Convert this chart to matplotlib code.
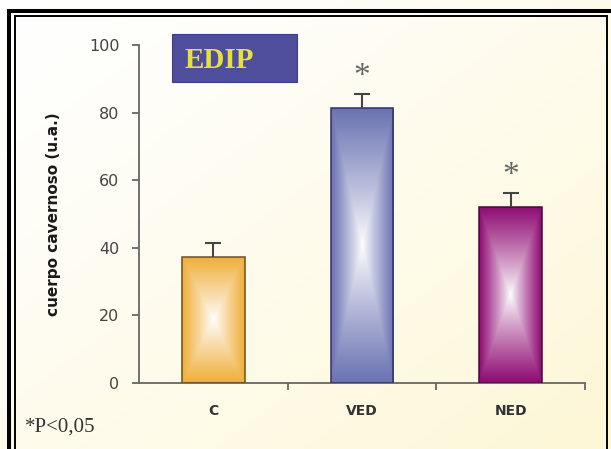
import numpy as np
import matplotlib
matplotlib.use("Agg")
import matplotlib.pyplot as plt
from matplotlib.patches import Rectangle
from matplotlib.colors import to_rgb

categories = ["C", "VED", "NED"]
values = [37.3, 81.4, 52.1]
errors = [4.1, 4.1, 4.1]
significant = [False, True, True]
bar_colors = ["#F0AE3A", "#6A72B2", "#8E0A72"]
edge_colors = ["#6b5020", "#2e3366", "#4a0840"]
yticks = [0, 20, 40, 60, 80, 100]

W, H = 611, 449
fig = plt.figure(figsize=(W / 100, H / 100), dpi=100)

# background gradient
bg = fig.add_axes([0, 0, 1, 1])
bg.set_axis_off()
yy, xx = np.mgrid[0:1:200j, 0:1:200j]
t = np.clip((xx + yy) / 2.0, 0, 1) ** 1.2
c0 = np.array(to_rgb("#FFFFFF"))
c1 = np.array(to_rgb("#FDF7D6"))
img = c0[None, None, :] * (1 - t[..., None]) + c1[None, None, :] * t[..., None]
bg.imshow(img, extent=[0, 1, 0, 1], origin="upper", aspect="auto")
bg.set_xlim(0, 1)
bg.set_ylim(0, 1)

def px(x, y):
    return x / W, 1 - y / H

# double border
bg.add_patch(Rectangle((9.0 / W, -0.1), (W + 20) / W, 1 - 11.5 / H + 0.1,
                       fill=False, lw=2.9, ec="black", transform=bg.transAxes))
bg.add_patch(Rectangle((14.5 / W, -0.1), (606.5 - 14.5) / W, 1 - 16.5 / H + 0.1,
                       fill=False, lw=1.4, ec="black", transform=bg.transAxes))

ax = fig.add_axes([139 / W, (H - 383) / H, 446 / W, 338 / H])
ax.patch.set_alpha(0)
x = np.arange(len(categories))
bw = 0.42
bars = ax.bar(x, values, width=bw, color="none", edgecolor=edge_colors, lw=1.1, zorder=3)

yy, xx = np.mgrid[-1:1:300j, -1:1:120j]
tt = np.maximum(np.abs(xx), np.abs(yy))
f = np.clip(tt, 0, 1) ** 0.9
for b, col in zip(bars, bar_colors):
    c = np.array(to_rgb(col))
    im = np.ones((300, 120, 3)) * (1 - f[..., None]) + c[None, None, :] * f[..., None]
    x0, y0 = b.get_x(), b.get_y()
    w, h = b.get_width(), b.get_height()
    imh = ax.imshow(im, extent=[x0, x0 + w, y0, y0 + h], origin="lower",
                    aspect="auto", zorder=2, interpolation="bilinear")
    imh.set_clip_path(b)

tops = np.array(values) + np.array(errors)
ax.vlines(x, values, tops, color="#444444", lw=1.5, zorder=4)
ax.plot(x, tops, ls="none", marker="_", ms=11.5, mew=1.5, color="#444444", zorder=4)

for xi, tp, s in zip(x, tops, significant):
    if s:
        ax.text(xi, tp + 5.0, "*", ha="center", va="center", fontsize=24,
                family="Liberation Serif", color="#666666")

ax.set_xlim(-0.5, 2.5)
ax.set_ylim(0, 100)
ax.set_yticks(yticks)
ax.set_yticklabels([str(v) for v in yticks])
ax.set_xticks(x)
ax.set_xticklabels(categories)
ax.set_xticks([0.5, 1.5, 2.5], minor=True)
ax.tick_params(axis="x", which="major", length=0, pad=15, labelsize=10,
               labelcolor="#333333")
ax.tick_params(axis="x", which="minor", length=5, width=1.3, color="#666666", direction="out")
ax.tick_params(axis="y", length=5, width=1.3, color="#666666", labelsize=11.5,
               labelcolor="#444444", pad=9)
for lab in ax.get_xticklabels():
    lab.set_fontweight("bold")
for sp in ["top", "right"]:
    ax.spines[sp].set_visible(False)
for sp in ["left", "bottom"]:
    ax.spines[sp].set_color("#666666")
    ax.spines[sp].set_linewidth(1.3)

ax.set_ylabel("cuerpo cavernoso (u.a.)", fontsize=11, fontweight="bold",
              color="#1a1a1a")
ax.yaxis.set_label_coords(-0.175, 0.5)

# EDIP box
fig.patches.append(Rectangle(px(172, 82), (297 - 172) / W, (82 - 34) / H,
                             transform=fig.transFigure, fc="#4E4E9C", ec="#3E3E88",
                             lw=0.8, zorder=5))
fig.text(px(185, 60)[0], px(185, 60)[1], "EDIP", ha="left", va="center",
         fontsize=21, fontweight="bold", family="Liberation Serif", color="#E6E23A", zorder=6)

fig.text(px(25, 427)[0], px(25, 427)[1], "*P<0,05", ha="left", va="center",
         fontsize=15, family="Liberation Serif", color="#333333")

fig.savefig("out.png", dpi=100)
